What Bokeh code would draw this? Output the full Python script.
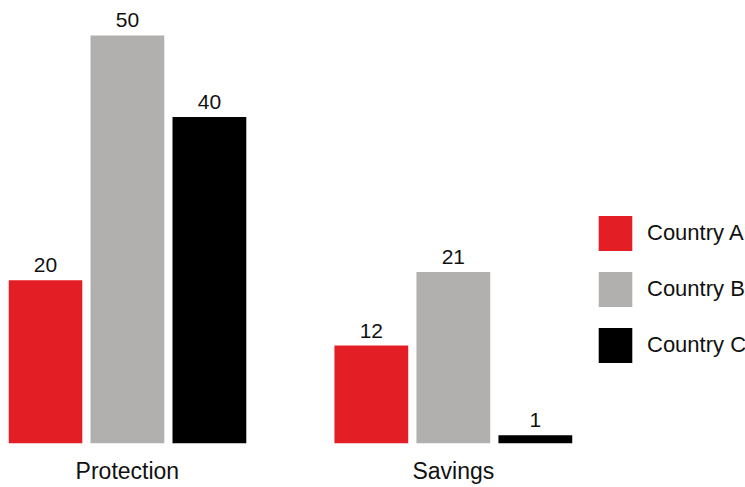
from bokeh.plotting import figure
from bokeh.models import ColumnDataSource, Range1d, FixedTicker, Legend, LegendItem
from bokeh.core.properties import value
from bokeh.embed import file_html
from bokeh.resources import INLINE

groups = ["Protection", "Savings"]
countries = ["Country A", "Country B", "Country C"]
colors = ["#e31e24", "#b1b0ae", "#000000"]
country_a = [20, 12]
country_b = [50, 21]
country_c = [40, 1]
series = [country_a, country_b, country_c]

FONT = "Liberation Sans"
n = len(countries)
gap = 0.975  # empty space between groups, in bar slots
step = n + gap

p = figure(width=745, height=487, output_backend="svg", toolbar_location=None,
           x_range=Range1d(-0.45, 8.538), y_range=Range1d(0, 53.3),
           min_border_left=8, min_border_right=0, min_border_top=8, min_border_bottom=44)
p.outline_line_color = None
p.xgrid.visible = False
p.ygrid.visible = False
p.yaxis.visible = False

renderers = []
for i, (name, vals, col) in enumerate(zip(countries, series, colors)):
    xs = [g * step + i for g in range(len(groups))]
    src = ColumnDataSource(dict(x=xs, top=vals, label=[str(v) for v in vals]))
    r = p.vbar(x="x", top="top", bottom=0, width=0.9, source=src,
               fill_color=col, line_color=None)
    p.text(x="x", y="top", text="label", source=src, text_align="center",
           text_baseline="bottom", y_offset=-8, text_font=value(FONT),
           text_font_size="21px", text_color="#111111")
    renderers.append(r)

centers = [g * step + (n - 1) / 2 for g in range(len(groups))]
p.xaxis.ticker = FixedTicker(ticks=centers)
p.xaxis.major_label_overrides = {c: g for c, g in zip(centers, groups)}
p.xaxis.axis_line_color = None
p.xaxis.major_tick_line_color = None
p.xaxis.minor_tick_line_color = None
p.xaxis.major_tick_in = 0
p.xaxis.major_tick_out = 0
p.xaxis.major_label_standoff = 14
p.xaxis.major_label_text_font = FONT
p.xaxis.major_label_text_font_size = "23px"
p.xaxis.major_label_text_color = "#111111"

legend = Legend(items=[LegendItem(label=c, renderers=[r]) for c, r in zip(countries, renderers)],
                location=(586, 76), glyph_width=42, glyph_height=44, label_standoff=11,
                spacing=12, padding=0, margin=0, border_line_color=None,
                background_fill_alpha=0, label_text_font=FONT, label_text_font_size="22px",
                label_text_color="#111111", label_height=44)
p.add_layout(legend)

open("out.html", "w").write(file_html(p, INLINE))
